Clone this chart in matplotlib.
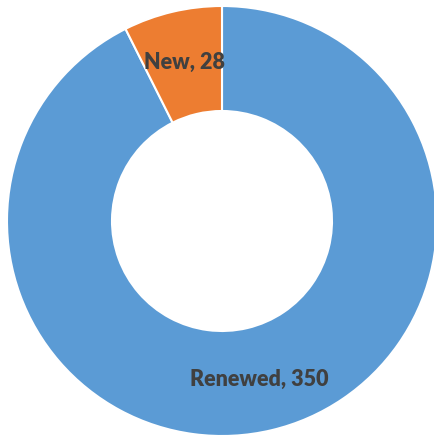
import numpy as np
import matplotlib
matplotlib.use("Agg")
import matplotlib.pyplot as plt

# ----------------- Data -----------------
labels = ["Renewed", "New"]
values = [350, 28]
colors = ["#5B9BD5", "#ED7D31"]

# ----------------- Layout (pixels) -----------------
W, H = 435, 436
cx, cy = 222, 221
r_out, r_in = 215, 110

fig = plt.figure(figsize=(W / 100, H / 100), dpi=100)
ax = fig.add_axes([0, 0, 1, 1])

wedges, _ = ax.pie(values, colors=colors, startangle=90, counterclock=False,
                   radius=r_out, center=(0, 0),
                   wedgeprops=dict(width=r_out - r_in, edgecolor="white", linewidth=1.5))

# labels centred in the ring
r_mid = (r_out + r_in) / 2
for w, lab, val in zip(wedges, labels, values):
    ang = np.deg2rad((w.theta1 + w.theta2) / 2)
    ax.text(r_mid * np.cos(ang), r_mid * np.sin(ang), f"{lab}, {val}",
            ha="center", va="center", fontsize=15.5, fontweight="heavy",
            family="Lato", color="#404040")

ax.set_xlim(-cx, W - cx)
ax.set_ylim(-(H - cy), cy)
ax.set_aspect("auto")
ax.axis("off")

fig.savefig("out.png", dpi=100)
